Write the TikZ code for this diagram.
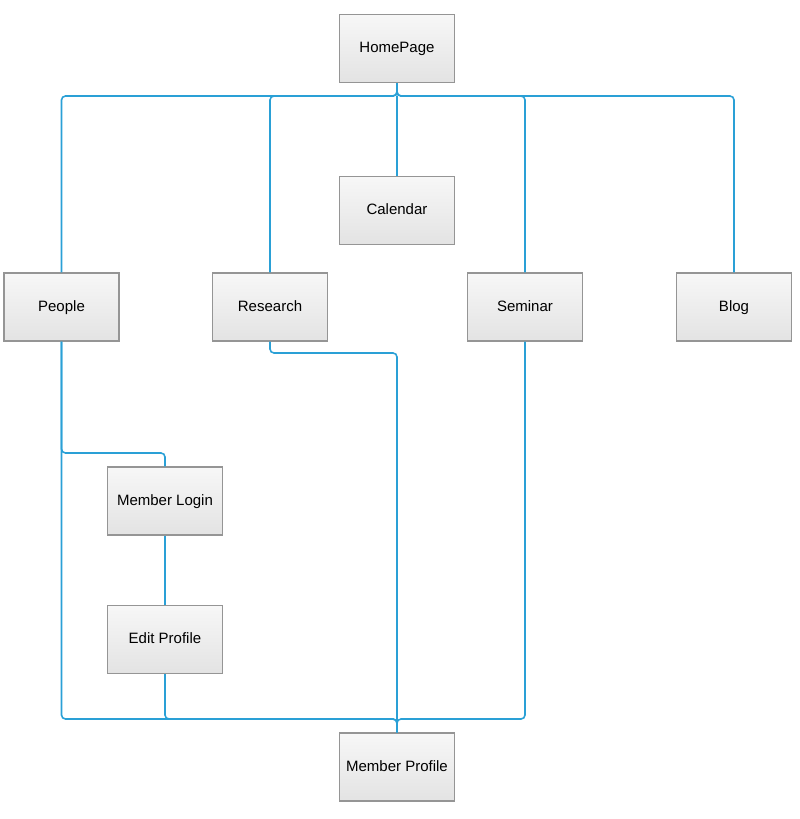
\documentclass[tikz,border=0pt]{standalone}
\usepackage{fontspec}
\setmainfont{Liberation Sans}
\definecolor{linkblue}{HTML}{2AA0D6}
\definecolor{boxedge}{HTML}{959595}
\definecolor{boxtop}{HTML}{F7F7F7}
\definecolor{boxbot}{HTML}{E3E3E3}
\begin{document}
\begin{tikzpicture}[x=1pt,y=-1pt,
  page/.style={draw=boxedge, line width=1.3pt, top color=boxtop, bottom color=boxbot,
    minimum width=115pt, minimum height=68pt, inner sep=0pt,
    text height=11pt, text depth=3pt,
    font=\fontsize{15}{18}\selectfont},
  link/.style={draw=linkblue, line width=1.6pt, rounded corners=4pt}]
\useasboundingbox (0,0) rectangle (800,819);
\node[page] (home) at (397,48.5) {HomePage};
\node[page] (cal) at (397,210.5) {Calendar};
\node[page] (people) at (61.5,307) {People};
\node[page] (research) at (270,307) {Research};
\node[page] (seminar) at (525,307) {Seminar};
\node[page] (blog) at (734,307) {Blog};
\node[page] (login) at (165,501) {Member Login};
\node[page] (edit) at (165,639.5) {Edit Profile};
\node[page] (profile) at (397,767) {Member Profile};

\coordinate (hb) at (397,96);
\draw[link] (home.south) -- (hb) -| (people.north);
\draw[link] (home.south) -- (hb) -| (research.north);
\draw[link] (hb) -- (cal.north);
\draw[link] (home.south) -- (hb) -| (seminar.north);
\draw[link] (home.south) -- (hb) -| (blog.north);

\coordinate (pb) at (397,719);
\draw[link] (research.south) |- (397,353) -- (profile.north);
\draw[link] (people.south) |- (165,453) -- (login.north);
\draw[link] (people.south) |- (pb) -- (profile.north);
\draw[link] (login.south) -- (edit.north);
\draw[link] (edit.south) |- (pb) -- (profile.north);
\draw[link] (seminar.south) |- (pb) -- (profile.north);
\end{tikzpicture}
\end{document}
